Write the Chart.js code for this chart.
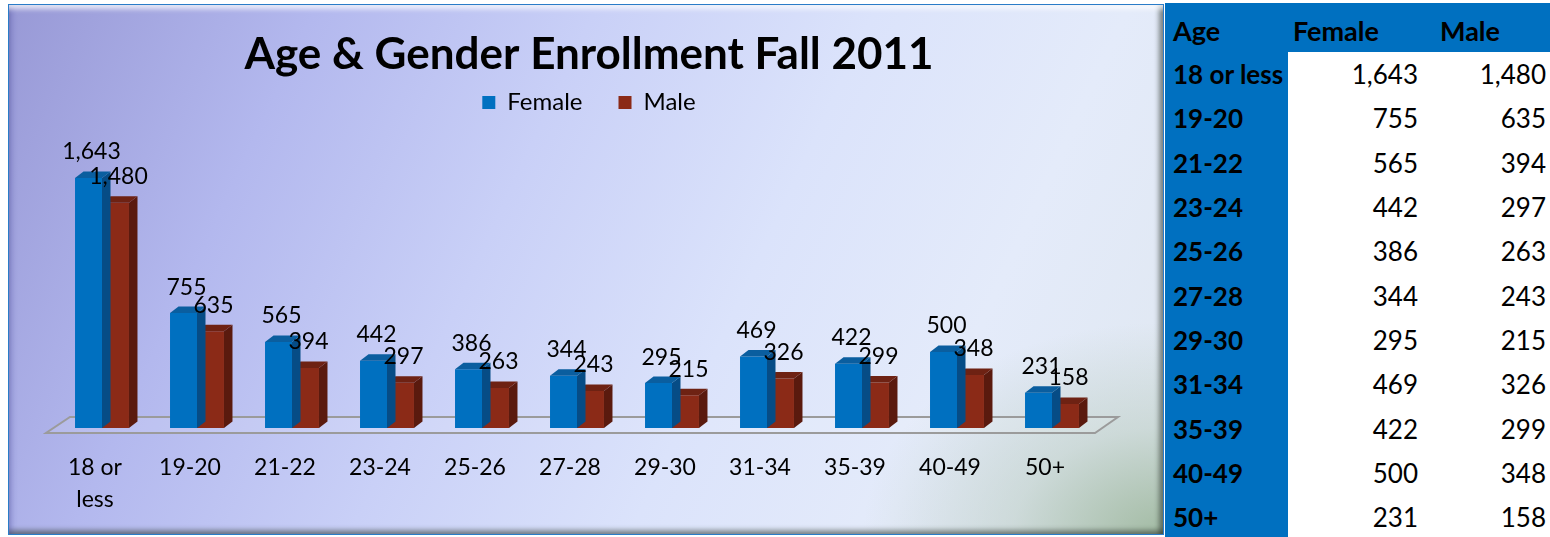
<!DOCTYPE html>
<html>
<head>
<meta charset="utf-8">
<script src="https://cdn.jsdelivr.net/npm/chart.js@4.4.1/dist/chart.umd.min.js"></script>
<style>
body { margin: 0; background: #fff; width: 1550px; height: 537px; overflow: hidden; font-family: Lato, sans-serif; }
#panel {
    position: absolute; left: 8px; top: 4px; width: 1156px; height: 531px;
    box-sizing: border-box; border: 1px solid #2a7cc8;
    background:
        radial-gradient(ellipse 26% 40% at 100% 100%, rgba(160,185,160,0.95), rgba(185,203,190,0.5) 50%, rgba(200,215,230,0) 100%),
        linear-gradient(115deg, #9899d6 0%, #b3b8ee 22%, #c9d0f7 42%, #dbe3fb 62%, #e4ebfa 80%, #dfe7f0 100%);
}
#panel canvas { position: absolute; left: 0; top: 0; }
#bevel {
    position: absolute; left: 0; top: 0; right: 0; bottom: 0; pointer-events: none;
    box-shadow:
        inset 0 9px 5px -5px rgba(255,255,255,0.75),
        inset 6px 0 5px -3px rgba(70,70,150,0.35),
        inset -7px 0 5px -3px rgba(40,50,40,0.55),
        inset 0 -7px 5px -3px rgba(40,50,40,0.5);
}
#tbl {
    position: absolute; left: 1165px; top: 3px; width: 385px; height: 534px;
    background: #0070c0; border-collapse: collapse; table-layout: fixed;
    font-family: Lato, sans-serif; font-size: 26px; color: #000;
}
#tbl td { padding: 0; height: 44.3px; white-space: nowrap; overflow: hidden; }
#tbl tr.head td { height: 49px; font-weight: bold; font-size: 27px; padding-top: 6px; box-sizing: border-box; }
#tbl td.lab { font-weight: bold; font-size: 26px; padding-left: 8px; }
#tbl td.val { background: #fff; text-align: right; }
</style>
</head>
<body>
<div id="panel">
    <canvas id="myChart" width="1154" height="529"></canvas>
    <div id="bevel"></div>
</div>
<table id="tbl"></table>
<script>
var ageGroups = ['18 or less', '19-20', '21-22', '23-24', '25-26', '27-28', '29-30', '31-34', '35-39', '40-49', '50+'];
var female = [1643, 755, 565, 442, 386, 344, 295, 469, 422, 500, 231];
var male = [1480, 635, 394, 297, 263, 243, 215, 326, 299, 348, 158];
var seriesNames = ['Female', 'Male'];

var frontColors = ['#0070c0', '#8b2a17'];
var sideColors = ['#064c86', '#5a1a0e'];
var topColors = ['#0a5e9f', '#6e2213'];
var DX = 8.5, DY = 6.5;
var PX_PER_UNIT = 0.1522;

function fmt(v) { return v.toLocaleString('en-US'); }

// table on the right
var tbl = document.getElementById('tbl');
var html = '<colgroup><col style="width:123px"><col style="width:132px"><col style="width:130px"></colgroup>';
html += '<tr class="head"><td style="padding-left:8px">Age</td><td style="padding-left:5px">' + seriesNames[0] +
        '</td><td style="padding-left:20px">' + seriesNames[1] + '</td></tr>';
for (var i = 0; i < ageGroups.length; i++) {
    html += '<tr><td class="lab">' + ageGroups[i] + '</td><td class="val" style="padding-right:2px">' + fmt(female[i]) +
            '</td><td class="val" style="padding-right:4px">' + fmt(male[i]) + '</td></tr>';
}
tbl.innerHTML = html;

var bar3d = {
    id: 'bar3d',
    beforeDatasetsDraw: function(chart) {
        var a = chart.chartArea, c = chart.ctx, b = a.bottom;
        c.save();
        c.beginPath();
        c.moveTo(a.left - 8.5, b + 5);
        c.lineTo(a.right - 4.5, b + 5);
        c.lineTo(a.right + 18.5, b - 11);
        c.lineTo(a.left + 15.5, b - 11);
        c.closePath();
        c.fillStyle = 'rgba(255,255,255,0.12)';
        c.fill();
        c.strokeStyle = '#9b9b9b';
        c.lineWidth = 2;
        c.stroke();
        c.restore();
    },
    afterDatasetDraw: function(chart, args) {
        var k = args.index, c = chart.ctx;
        c.save();
        args.meta.data.forEach(function(bar) {
            var p = bar.getProps(['x', 'y', 'base', 'width'], true);
            var l = p.x - p.width / 2, r = p.x + p.width / 2;
            c.fillStyle = sideColors[k];
            c.beginPath();
            c.moveTo(r, p.y); c.lineTo(r + DX, p.y - DY); c.lineTo(r + DX, p.base - DY); c.lineTo(r, p.base);
            c.closePath(); c.fill();
            c.fillStyle = topColors[k];
            c.beginPath();
            c.moveTo(l, p.y); c.lineTo(l + DX, p.y - DY); c.lineTo(r + DX, p.y - DY); c.lineTo(r, p.y);
            c.closePath(); c.fill();
        });
        c.restore();
    },
    afterDatasetsDraw: function(chart) {
        var c = chart.ctx;
        c.save();
        c.font = '23px Lato';
        c.fillStyle = '#000';
        c.textAlign = 'center';
        c.textBaseline = 'middle';
        chart.data.datasets.forEach(function(ds, k) {
            chart.getDatasetMeta(k).data.forEach(function(bar, j) {
                c.fillText(fmt(ds.data[j]), bar.x + 3, bar.y - 26);
            });
        });
        c.restore();
    }
};

var ctx = document.getElementById('myChart').getContext('2d');
var myChart = new Chart(ctx, {
    type: 'bar',
    data: {
        labels: ageGroups,
        datasets: [{
            label: seriesNames[0],
            data: female,
            backgroundColor: frontColors[0]
        }, {
            label: seriesNames[1],
            data: male,
            backgroundColor: frontColors[1]
        }]
    },
    options: {
        responsive: false,
        animation: false,
        layout: { padding: { left: 45.5, right: 39.5, top: 0, bottom: 0 } },
        datasets: {
            bar: { categoryPercentage: 0.568, barPercentage: 1.0, borderWidth: 0 }
        },
        plugins: {
            title: {
                display: true,
                text: 'Age & Gender Enrollment Fall 2011',
                color: '#000',
                font: { family: 'Lato', size: 44, weight: 'bold', lineHeight: 1.2 },
                padding: { top: 23.6, bottom: -27 }
            },
            legend: {
                labels: {
                    color: '#000',
                    font: { family: 'Lato', size: 24 },
                    boxWidth: 13,
                    boxHeight: 13,
                    padding: 36
                }
            },
            tooltip: { enabled: false }
        },
        scales: {
            x: {
                grid: { display: false, drawTicks: false },
                border: { display: false },
                ticks: {
                    color: '#000',
                    font: { family: 'Lato', size: 23, lineHeight: 1.4 },
                    padding: 23,
                    labelOffset: -7,
                    maxRotation: 0,
                    autoSkip: false,
                    callback: function(v, i) {
                        var s = ageGroups[i];
                        var sp = s.lastIndexOf(' ');
                        return s.length > 6 ? [s.slice(0, sp), s.slice(sp + 1)] : s;
                    }
                },
                afterFit: function(s) { s.height = 106; }
            },
            y: {
                position: 'right',
                min: 0,
                max: 2000,
                grid: { display: false, drawTicks: false },
                border: { display: false },
                ticks: { display: false },
                afterFit: function(s) { s.width = 24; }
            }
        }
    },
    plugins: [bar3d]
});

// calibrate the value axis so bar heights match the original's scale
var area = myChart.chartArea;
myChart.options.scales.y.max = (area.bottom - area.top) / PX_PER_UNIT;
myChart.update('none');
</script>
</body>
</html>
